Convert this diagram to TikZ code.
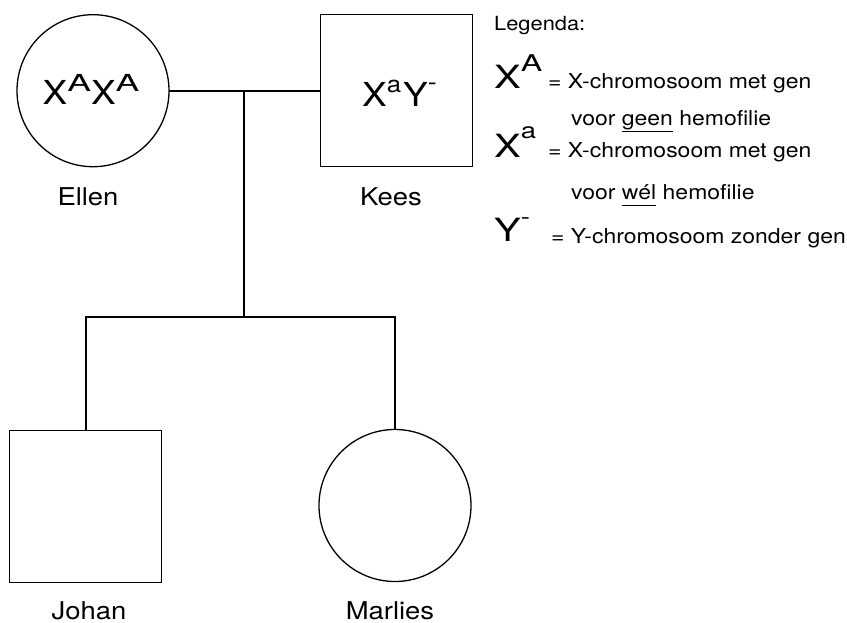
\documentclass[tikz,border=0pt]{standalone}
\usepackage{fontspec}
\setmainfont{TeX Gyre Heros}[FakeStretch=1.12]
\newfontfamily\legf{TeX Gyre Heros}[FakeStretch=1.25]
\newcommand\fsz[1]{\fontsize{#1}{#1}\selectfont}
\newcommand\ulword[1]{\setbox0\hbox{#1}\rlap{\rule[-5.7pt]{\wd0}{1pt}}\box0\relax}
\newcommand\supr[3]{\raisebox{#1}{\fsz{#2}#3}}
\begin{document}
\begin{tikzpicture}[x=1pt,y=-1pt,
  person/.style={draw,line width=1.3pt,inner sep=0pt,outer sep=0pt,minimum size=152pt},
  female/.style={person,circle},
  male/.style={person,rectangle},
  link/.style={line width=2pt},
  geno/.style={anchor=base west,inner sep=0pt},
  pname/.style={anchor=base,inner sep=0pt,font=\fsz{24.5}},
  leg/.style={anchor=base west,inner sep=0pt,font=\fsz{20.5}}]
\useasboundingbox (0,0) rectangle (847,623);

% persons
\node[female] (ellen) at (93,90.7) {};
\node[male] (kees) at (396.3,90.7) {};
\node[male] (johan) at (85.7,506.5) {};
\node[female] (marlies) at (395,505.5) {};

% genotypes
\node[geno] (ellg) at (42.5,105) {\fsz{33}X\supr{13pt}{23.5}{\scalebox{1.35}[1]{A}}X\supr{13pt}{23.5}{\scalebox{1.35}[1]{A}}};
\node[geno] (keesg) at (362,106.7) {\fsz{33}X\supr{13.7pt}{23}{a}\hspace{2pt}Y\supr{16pt}{24}{-}};

% names
\node[pname] (ellenl) at (88,206) {Ellen};
\node[pname] (keesl) at (391,206) {Kees};
\node[pname] (johanl) at (89,619) {Johan};
\node[pname] (marliesl) at (390,619) {Marlies};

% connectors
\coordinate (mate) at (244,90.7);
\coordinate (sibs) at (244,317);
\draw[link] (ellen.east) -- (kees.west);
\draw[link] (mate) -- (sibs);
\draw[link] (johan.north) |- (sibs) -| (marlies.north);

% legend
\node[leg,font=\fsz{19.5}] (legt) at (494,30.5) {Legenda:};
\node[geno] (lxA) at (494,89) {\legf\fsz{32}X\supr{17pt}{23}{\scalebox{1.12}[1]{A}}};
\node[leg] (l1) at (548,88.3) {= X-chromosoom met gen};
\node[leg] (l2) at (571,126) {voor \ulword{geen} hemofilie};
\node[geno] (lxa) at (494,157.5) {\legf\fsz{32}X\supr{19pt}{22}{a}};
\node[leg] (l3) at (548,157.3) {= X-chromosoom met gen};
\node[leg] (l4) at (571,200) {voor \ulword{wél} hemofilie};
\node[geno] (lY) at (494,242) {\legf\fsz{32}Y\supr{17.5pt}{22}{-}};
\node[leg] (l5) at (551,243.5) {= Y-chromosoom zonder gen};
\end{tikzpicture}
\end{document}
